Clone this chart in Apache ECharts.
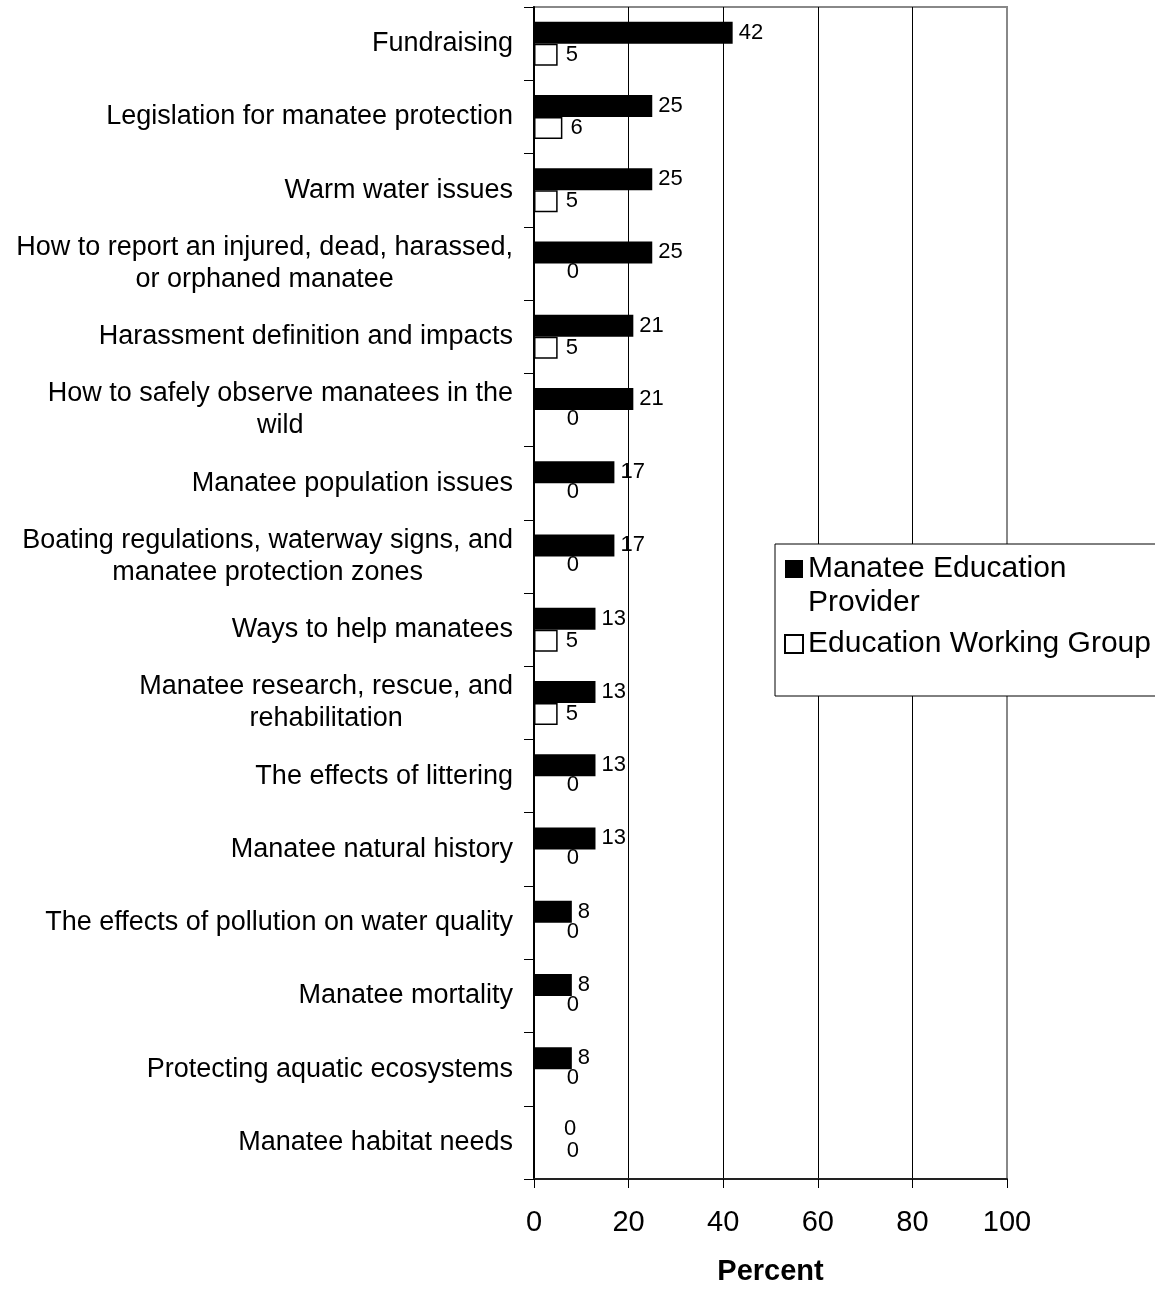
<!DOCTYPE html>
<html>
<head>
<meta charset="utf-8">
<script src="https://cdn.jsdelivr.net/npm/echarts@6/dist/echarts.min.js"></script>
<style>
html,body{margin:0;padding:0;background:#fff;}
#chart{width:1155px;height:1291px;}
</style>
</head>
<body>
<div id="chart"></div>
<script>
const categories = [
  "Fundraising",
  "Legislation for manatee protection",
  "Warm water issues",
  "How to report an injured, dead, harassed, or orphaned manatee",
  "Harassment definition and impacts",
  "How to safely observe manatees in the wild",
  "Manatee population issues",
  "Boating regulations, waterway signs, and manatee protection zones",
  "Ways to help manatees",
  "Manatee research, rescue, and rehabilitation",
  "The effects of littering",
  "Manatee natural history",
  "The effects of pollution on water quality",
  "Manatee mortality",
  "Protecting aquatic ecosystems",
  "Manatee habitat needs"
];
const providerValues = [42, 25, 25, 25, 21, 21, 17, 17, 13, 13, 13, 13, 8, 8, 8, 0];
const workingGroupValues = [5, 6, 5, 0, 5, 0, 0, 0, 5, 5, 0, 0, 0, 0, 0, 0];
const seriesNames = ["Manatee Education Provider", "Education Working Group"];
const xTicks = [0, 20, 40, 60, 80, 100];

const FONT = '"Liberation Sans", Arial, sans-serif';
const CAT_SIZE = 27;
const measureCtx = document.createElement('canvas').getContext('2d');
function wrapText(text, size, maxW) {
  measureCtx.font = size + 'px ' + FONT;
  const words = text.split(' ');
  const lines = [];
  let cur = '';
  words.forEach(w => {
    const t = cur ? cur + ' ' + w : w;
    if (cur && measureCtx.measureText(t).width > maxW) { lines.push(cur); cur = w; }
    else cur = t;
  });
  if (cur) lines.push(cur);
  return lines;
}

function toData(values) {
  return values.map(v => v === 0
    ? { value: v, label: { offset: [24, -2] } }
    : { value: v });
}

const chart = echarts.init(document.getElementById('chart'), null, { renderer: 'canvas' });
chart.setOption({
  animation: false,
  backgroundColor: '#fff',
  textStyle: { fontFamily: FONT, color: '#000' },
  grid: {
    left: 534, right: 148, top: 7, bottom: 107,
    show: true, borderColor: '#888', borderWidth: 2, backgroundColor: 'transparent'
  },
  legend: {
    orient: 'vertical',
    left: 775, top: 544,
    padding: [8, 12, 35, 9],
    borderColor: '#000', borderWidth: 1,
    backgroundColor: '#fff',
    itemGap: 7,
    itemWidth: 18, itemHeight: 52,
    symbolKeepAspect: true,
    textStyle: { fontFamily: FONT, fontSize: 30, color: '#000', lineHeight: 34 },
    formatter: name => name === seriesNames[0] ? 'Manatee Education\nProvider' : name,
    data: [
      { name: seriesNames[0], icon: 'path://M0,0h18v18h-18z M18,52' },
      { name: seriesNames[1], icon: 'path://M0,0h18v18h-18z' }
    ]
  },
  xAxis: {
    type: 'value', min: 0, max: 100, interval: 20,
    name: 'Percent', nameLocation: 'middle', nameGap: 78,
    nameTextStyle: { fontFamily: FONT, fontSize: 29, fontWeight: 'bold', color: '#000' },
    axisLine: { show: true, lineStyle: { color: '#222', width: 2 } },
    axisTick: { show: true, length: 9, lineStyle: { color: '#000', width: 1 } },
    axisLabel: { fontFamily: FONT, fontSize: 29, color: '#000', margin: 29 },
    splitLine: { show: true, showMaxLine: false, showMinLine: false, lineStyle: { color: '#000', width: 1 } }
  },
  yAxis: {
    type: 'category', inverse: true, data: categories,
    axisLine: { show: true, lineStyle: { color: '#000', width: 2 } },
    axisTick: { show: true, length: 10, lineStyle: { color: '#000', width: 1 } },
    axisLabel: {
      margin: 21, interval: 0,
      fontFamily: FONT, fontSize: CAT_SIZE, color: '#000',
      formatter: v => wrapText(v, CAT_SIZE, 505).map(l => '{c|' + l + '}').join('\n'),
      rich: { c: { align: 'center', fontFamily: FONT, fontSize: CAT_SIZE, color: '#000', lineHeight: 32 } }
    },
    splitLine: { show: false }
  },
  series: [
    {
      name: seriesNames[0], type: 'bar', data: toData(providerValues),
      barWidth: 22, barGap: '0%',
      itemStyle: { color: '#000' },
      label: { show: true, position: 'right', distance: 6, fontFamily: FONT, fontSize: 22, color: '#000' }
    },
    {
      name: seriesNames[1], type: 'bar', data: toData(workingGroupValues),
      barWidth: 22, barGap: '0%',
      itemStyle: { color: '#fff', borderColor: '#000', borderWidth: 1.5 },
      label: { show: true, position: 'right', distance: 8, fontFamily: FONT, fontSize: 22, color: '#000' }
    }
  ]
});
</script>
</body>
</html>
